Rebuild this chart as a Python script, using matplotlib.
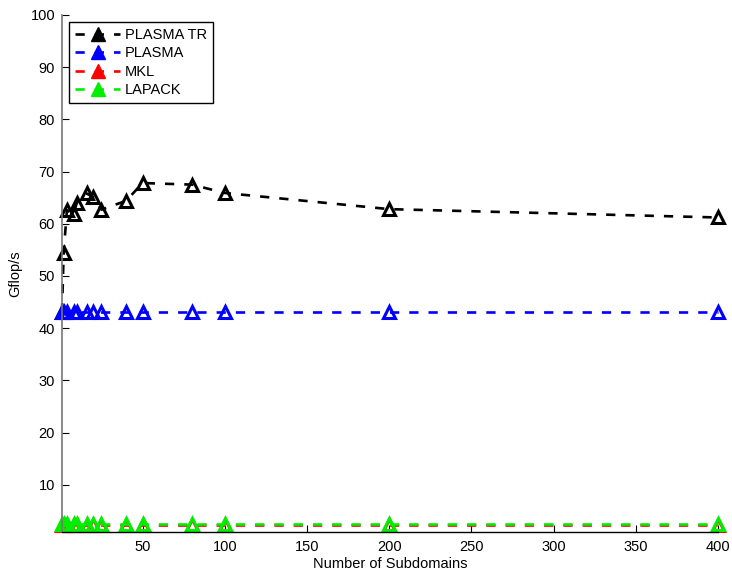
import matplotlib.pyplot as plt
from matplotlib.lines import Line2D

plt.rcParams['font.family'] = ['Liberation Sans', 'DejaVu Sans']
plt.rcParams['font.size'] = 10.5

# number of subdomains used for each run
subdomains = [1, 2, 4, 8, 10, 16, 20, 25, 40, 50, 80, 100, 200, 400]

# Gflop/s for each solver
plasma_tr = [43.0, 54.4, 62.6, 61.8, 64.0, 65.8, 65.1, 62.7, 64.4, 67.8, 67.5, 65.9, 62.8, 61.2]
plasma = [43.0] * len(subdomains)
mkl = [2.35] * len(subdomains)
lapack = [2.4] * len(subdomains)

series = [('PLASMA TR', plasma_tr, 'black'),
          ('PLASMA', plasma, 'blue'),
          ('MKL', mkl, 'red'),
          ('LAPACK', lapack, '#00ee00')]

fig = plt.figure(figsize=(7.32, 5.76), dpi=100)
ax = fig.add_axes([0.0847, 0.0769, 0.8963, 0.8971])

handles = []
for name, vals, col in series:
    ax.plot(subdomains, vals, color=col, linestyle='--', dashes=(3.5, 3.8), linewidth=1.9,
            marker='^', markersize=9, markerfacecolor='none', markeredgecolor=col,
            markeredgewidth=2.2, clip_on=False)
    handles.append(Line2D([], [], color=col, linestyle='--', dashes=(3.5, 3.8), linewidth=1.9,
                          marker='^', markersize=9.5, markerfacecolor=col, markeredgecolor=col))

ax.set_xlim(1, 400)
ax.set_ylim(1, 100)
ax.set_xticks(range(50, 401, 50))
ax.set_yticks(range(10, 101, 10))
ax.tick_params(direction='in', length=5, width=0.8, labelsize=10.5, pad=5)
ax.tick_params(axis='x', pad=6)

ax.spines['top'].set_visible(False)
ax.spines['right'].set_visible(False)
ax.spines['left'].set_color('#777777')
ax.spines['left'].set_linewidth(1.2)
ax.spines['bottom'].set_linewidth(1.0)

ax.set_xlabel('Number of Subdomains', labelpad=2)
ax.set_ylabel('Gflop/s', labelpad=6)

leg = ax.legend(handles, [s[0] for s in series], loc='upper left', borderaxespad=0.5,
                handlelength=3.1, labelspacing=0.3, fancybox=False, framealpha=1,
                edgecolor='black', borderpad=0.4, handletextpad=0.3)
leg.get_frame().set_linewidth(1.0)

fig.savefig('out.png', dpi=100)
